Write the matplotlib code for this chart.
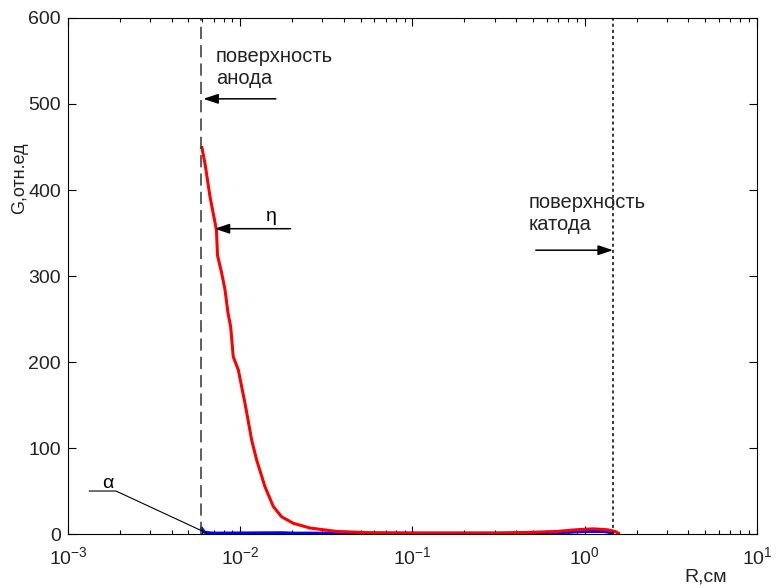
import numpy as np
import matplotlib
matplotlib.use("Agg")
import matplotlib.pyplot as plt

plt.rcParams["font.family"] = ["Liberation Sans", "DejaVu Sans"]
plt.rcParams["mathtext.fontset"] = "custom"
plt.rcParams["mathtext.rm"] = "Liberation Sans"

# ── data ─────────────────────────────────────────────────────────────────────
red_r = [0.00597, 0.00624, 0.00668, 0.00714, 0.00728, 0.00738, 0.00781, 0.00816,
         0.00849, 0.00880, 0.00911, 0.00974, 0.01066, 0.01166, 0.01246, 0.01392,
         0.01556, 0.01740, 0.02032, 0.02541, 0.0363, 0.0567,
         0.1, 0.3, 0.5, 0.69, 0.9, 1.12, 1.35, 1.5, 1.6]
red_g = [451, 431, 392, 362, 353, 324, 303, 284,
         257, 241, 206, 191, 152, 109, 86, 55,
         32, 20, 12.5, 7, 3, 1.5,
         1, 1, 2, 3, 5, 6, 5, 3, 0]

blue_r = [0.00591, 0.0062, 0.0070, 0.0175, 0.0205, 0.1, 0.5, 0.8, 1.0, 1.3, 1.45]
blue_g = [8, 2, 1, 1.5, 1, 1, 1, 2, 3, 3, 1]

anode_r = 0.00591
cathode_r = 1.46

fig = plt.figure(figsize=(7.77, 5.88), dpi=100)
ax = fig.add_axes([0.0875, 0.0918, 0.8867, 0.8776])

ax.plot(blue_r, blue_g, color="#0000ff", lw=2.2, solid_capstyle="butt")
ax.plot(red_r, red_g, color="#ff0000", lw=2.2, solid_capstyle="butt")

ax.axvline(anode_r, color="#333333", lw=1.1, ls=(0, (8, 4)))
ax.axvline(cathode_r, color="black", lw=1.1, ls=(0, (2, 2)))

ax.set_xscale("log")
ax.set_xlim(1e-3, 10)
ax.set_ylim(0, 600)
ax.set_yticks(range(0, 601, 100))

ax.tick_params(which="both", direction="in", top=True, right=True,
               labelsize=14, width=0.8, labelcolor="#222222")
ax.tick_params(which="major", length=6)
ax.tick_params(axis="x", which="major", pad=9)
ax.tick_params(axis="y", which="major", pad=5)
ax.tick_params(which="minor", length=3)
for s in ax.spines.values():
    s.set_linewidth(0.8)

ax.set_ylabel("G,отн.ед", fontsize=13, color="#222222")
ax.yaxis.set_label_coords(-0.058, 0.69)
ax.set_xlabel("R,см", fontsize=14, color="#222222")
ax.xaxis.set_label_coords(0.925, -0.066)

arrow = dict(arrowstyle="-|>,head_length=0.9,head_width=0.3", color="black",
             lw=1.1, shrinkA=0, shrinkB=0)

# anode annotation
ax.text(0.0072, 566, "поверхность\nанода", fontsize=14.5, va="top",
        linespacing=1.2, color="#222222")
ax.annotate("", xy=(0.0061, 506), xytext=(0.0161, 506), arrowprops=arrow)

# eta annotation
ax.text(0.0142, 364, "η", fontsize=14)
ax.annotate("", xy=(0.0071, 355), xytext=(0.0196, 355), arrowprops=arrow)

# cathode annotation
ax.text(0.472, 396, "поверхность\nкатода", fontsize=14.5, va="top",
        linespacing=1.2, color="#222222")
ax.annotate("", xy=(cathode_r, 330), xytext=(0.52, 330), arrowprops=arrow)

# alpha annotation
ax.text(0.00157, 54, "α", fontsize=14)
ax.plot([0.00133, 0.0019, 0.0064], [50, 50, 1], color="black", lw=0.8)

fig.savefig("out.png", dpi=100)
